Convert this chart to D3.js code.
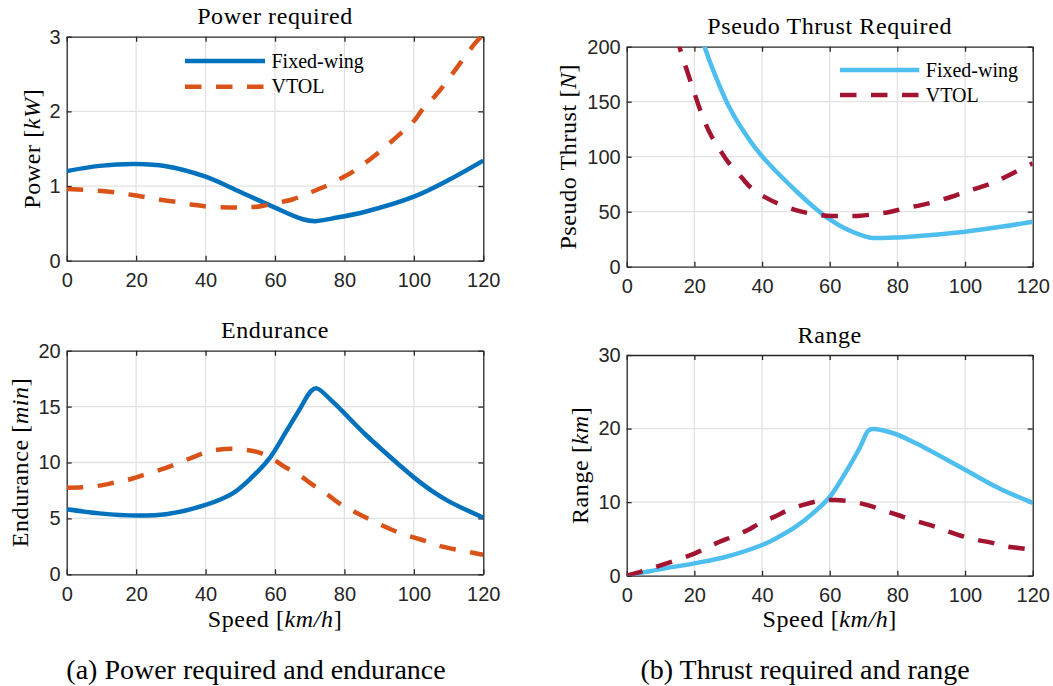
<!DOCTYPE html>
<html>
<head>
<meta charset="utf-8">
<script src="https://cdn.jsdelivr.net/npm/d3@7"></script>
<style>
body { margin: 0; background: #fff; }
svg { display: block; }
.serif { font-family: "Liberation Serif", "Times New Roman", serif; fill: #000; }
</style>
</head>
<body>
<div id="chart"></div>
<script>

// ---- data ----
var speedTicks = [0, 20, 40, 60, 80, 100, 120];
var powerTicks = [0, 1, 2, 3];
var enduranceTicks = [0, 5, 10, 15, 20];
var thrustTicks = [0, 50, 100, 150, 200];
var rangeTicks = [0, 10, 20, 30];
var seriesNames = ["Fixed-wing", "VTOL"];

var powerFwSpeed = [0, 9.4, 20, 28.6, 40, 50, 60, 68, 71.5, 76.6, 86, 100, 110, 120];
var powerFw = [1.20, 1.27, 1.295, 1.265, 1.125, 0.92, 0.71, 0.555, 0.53, 0.567, 0.656, 0.857, 1.08, 1.34];
var powerVtolSpeed = [0, 11, 19, 23, 28, 32.5, 37, 41.6, 47, 51, 56, 60, 65, 69.4, 73.7, 78, 82, 85.7, 89.6, 93.4, 96.8, 100.2, 102.7, 106, 109, 112.3, 114.7, 117.6, 120];
var powerVtol = [0.96, 0.93, 0.88, 0.848, 0.81, 0.78, 0.745, 0.72, 0.714, 0.714, 0.73, 0.77, 0.82, 0.9, 0.98, 1.08, 1.18, 1.30, 1.44, 1.59, 1.73, 1.88, 2.04, 2.2, 2.37, 2.58, 2.73, 2.91, 3.03];

var enduranceFwSpeed = [0, 9.4, 20, 28.6, 40, 47.8, 53.5, 58.4, 63.2, 67, 70.4, 72, 76.6, 86.2, 95.8, 100, 105.5, 110.2, 120];
var enduranceFw = [5.81, 5.45, 5.25, 5.37, 6.2, 7.24, 8.73, 10.37, 12.76, 14.7, 16.4, 16.63, 15.44, 12.46, 9.78, 8.67, 7.39, 6.5, 5.07];
var enduranceVtolSpeed = [0, 4.6, 9.4, 13.7, 18.5, 22.9, 27.7, 32, 36.3, 40.6, 45.4, 49.7, 54.5, 58.3, 62.7, 67, 70.9, 74.7, 78.5, 82.3, 86.7, 90.6, 95.4, 99.2, 104, 108.3, 113.1, 117.4, 120];
var enduranceVtol = [7.75, 7.78, 7.93, 8.2, 8.52, 8.97, 9.42, 9.93, 10.46, 10.97, 11.2, 11.2, 10.97, 10.52, 9.63, 8.88, 7.99, 7.24, 6.35, 5.69, 5.0, 4.41, 3.76, 3.37, 2.92, 2.47, 2.15, 1.9, 1.75];

var thrustFwSpeed = [22.3, 23, 25, 27.5, 30, 32.5, 35, 37.5, 40, 45, 50, 55, 60, 65, 70, 72, 80, 90, 100, 110, 120];
var thrustFw = [206, 200, 183, 164, 147, 133, 121, 110, 100.5, 84, 69, 55, 43, 34, 28, 26.4, 26.6, 28.8, 31.8, 36, 40.9];
var thrustVtolSpeed = [15, 15.6, 17, 20, 22.5, 25, 28, 30, 34, 37, 41, 45, 50, 54, 59, 64, 69, 74, 78, 82, 87, 91, 96, 100, 105, 109, 114, 120];
var thrustVtol = [210, 200, 186, 158, 136, 119, 104, 95, 81, 71, 63, 57, 51.5, 48.5, 46.4, 46, 46.4, 48, 50, 53, 56, 59, 63.6, 68, 72.7, 77.3, 84.8, 94];

var rangeFwSpeed = [0, 9.7, 20, 29.4, 40, 45, 50, 55, 60, 64, 69, 71.2, 72.2, 78.6, 85.5, 100, 110, 120];
var rangeFw = [0, 0.86, 1.68, 2.58, 4.17, 5.3, 6.66, 8.47, 10.7, 13.5, 17.5, 19.6, 19.9, 19.4, 18.0, 14.4, 11.9, 9.9];
var rangeVtolSpeed = [0, 4.7, 10, 20, 26.4, 31.3, 35.8, 39.2, 43.6, 48.1, 53, 57.4, 61.4, 66.8, 71.2, 75.7, 80.1, 84.5, 89.5, 93.9, 98.3, 102.8, 107.7, 112.1, 117, 120];
var rangeVtol = [0, 0.63, 1.4, 3.0, 4.4, 5.3, 6.2, 7.1, 8.0, 9.0, 9.74, 10.2, 10.3, 10.06, 9.6, 8.9, 8.25, 7.57, 6.9, 6.2, 5.5, 4.94, 4.5, 4.0, 3.7, 3.5];

function pairs(xs, ys) { return xs.map(function(v, i) { return [v, ys[i]]; }); }

var width = 1053, height = 686;
var axisColour = "#262626", gridColour = "#e2e2e2";

var svg = d3.select("#chart").append("svg")
.attr("width", width)
.attr("height", height);

var defs = svg.append("defs");

var panels = [
  { id: "power", left: 66.7, right: 483.3, top: 36.7, bottom: 260.7, yMax: 3, yTicks: powerTicks,
    title: "Power required", titleY: 24, yLabel: ["Power [", "kW", "]"], yLabelX: 40,
    colours: ["#0072BD", "#D95319"],
    series: [pairs(powerFwSpeed, powerFw), pairs(powerVtolSpeed, powerVtol)],
    legend: { x1: 185, x2: 265, y: [61, 86.7] } },
  { id: "endurance", left: 66.7, right: 483.3, top: 350.7, bottom: 574.3, yMax: 20, yTicks: enduranceTicks,
    title: "Endurance", titleY: 337.7, yLabel: ["Endurance [", "min", "]"], yLabelX: 27.5,
    colours: ["#0072BD", "#D95319"],
    series: [pairs(enduranceFwSpeed, enduranceFw), pairs(enduranceVtolSpeed, enduranceVtol)],
    xLabelY: 627 },
  { id: "thrust", left: 626.7, right: 1032.7, top: 46.7, bottom: 266.7, yMax: 200, yTicks: thrustTicks,
    title: "Pseudo Thrust Required", titleY: 34, yLabel: ["Pseudo Thrust [", "N", "]"], yLabelX: 576,
    colours: ["#4DBEEE", "#A2142F"],
    series: [pairs(thrustFwSpeed, thrustFw), pairs(thrustVtolSpeed, thrustVtol)],
    legend: { x1: 840, x2: 919.3, y: [70, 95] } },
  { id: "range", left: 626.7, right: 1032.7, top: 355, bottom: 575.7, yMax: 30, yTicks: rangeTicks,
    title: "Range", titleY: 342.7, yLabel: ["Range [", "km", "]"], yLabelX: 588,
    colours: ["#4DBEEE", "#A2142F"],
    series: [pairs(rangeFwSpeed, rangeFw), pairs(rangeVtolSpeed, rangeVtol)],
    xLabelY: 627 }
];

panels.forEach(drawPanel);

function styleAxis(sel) {
  sel.attr("font-family", "'Liberation Sans', Arial, sans-serif")
  .attr("font-size", 20);
  sel.select(".domain").attr("stroke", axisColour).attr("stroke-width", 1.3);
  sel.selectAll(".tick line").attr("stroke", axisColour).attr("stroke-width", 1.3);
  sel.selectAll(".tick text").attr("fill", axisColour);
}

function drawPanel(p) {
  var w = p.right - p.left, h = p.bottom - p.top;
  var x = d3.scaleLinear().domain([0, 120]).range([p.left, p.right]);
  var y = d3.scaleLinear().domain([0, p.yMax]).range([p.bottom, p.top]);
  var fmt = d3.format("d");
  var g = svg.append("g").attr("class", p.id);

  defs.append("clipPath").attr("id", "clip-" + p.id)
  .append("rect")
  .attr("x", p.left).attr("y", p.top)
  .attr("width", w).attr("height", h);

  // grid
  g.append("g").selectAll("line").data(speedTicks.slice(1, -1)).enter().append("line")
  .attr("x1", function(d) { return x(d); }).attr("x2", function(d) { return x(d); })
  .attr("y1", p.top).attr("y2", p.bottom)
  .attr("stroke", gridColour).attr("stroke-width", 1.3);
  g.append("g").selectAll("line").data(p.yTicks.slice(1, -1)).enter().append("line")
  .attr("y1", function(d) { return y(d); }).attr("y2", function(d) { return y(d); })
  .attr("x1", p.left).attr("x2", p.right)
  .attr("stroke", gridColour).attr("stroke-width", 1.3);

  // box with inward ticks on all sides
  g.append("g").attr("transform", "translate(0," + p.bottom + ")")
  .call(d3.axisBottom(x).tickValues(speedTicks).tickFormat(fmt).tickSizeInner(-5).tickSizeOuter(0).tickPadding(12.5))
  .call(styleAxis);
  g.append("g").attr("transform", "translate(0," + p.top + ")")
  .call(d3.axisTop(x).tickValues(speedTicks).tickSizeInner(-5).tickSizeOuter(0).tickFormat(""))
  .call(styleAxis);
  g.append("g").attr("transform", "translate(" + p.left + ",0)")
  .call(d3.axisLeft(y).tickValues(p.yTicks).tickFormat(fmt).tickSizeInner(-5).tickSizeOuter(0).tickPadding(6))
  .call(styleAxis);
  g.append("g").attr("transform", "translate(" + p.right + ",0)")
  .call(d3.axisRight(y).tickValues(p.yTicks).tickSizeInner(-5).tickSizeOuter(0).tickFormat(""))
  .call(styleAxis);

  // curves
  var line = d3.line()
  .x(function(d) { return x(d[0]); })
  .y(function(d) { return y(d[1]); })
  .curve(d3.curveCatmullRom.alpha(0.5));

  g.append("g").attr("clip-path", "url(#clip-" + p.id + ")")
  .selectAll("path").data(p.series).enter().append("path")
  .attr("d", line)
  .attr("fill", "none")
  .attr("stroke", function(d, i) { return p.colours[i]; })
  .attr("stroke-width", 4.5)
  .attr("stroke-linejoin", "round")
  .attr("stroke-dasharray", function(d, i) { return i == 1 ? "16.5,14.5" : null; });

  // title
  g.append("text")
  .attr("class", "serif")
  .attr("x", (p.left + p.right) / 2)
  .attr("y", p.titleY)
  .attr("text-anchor", "middle")
  .attr("font-size", 24)
  .attr("letter-spacing", 0.6)
  .text(p.title);

  // y label
  var yl = g.append("text")
  .attr("class", "serif")
  .attr("transform", "translate(" + p.yLabelX + "," + ((p.top + p.bottom) / 2) + ") rotate(-90)")
  .attr("text-anchor", "middle")
  .attr("font-size", 24)
  .attr("letter-spacing", 0.6);
  yl.append("tspan").text(p.yLabel[0]);
  yl.append("tspan").attr("font-style", "italic").text(p.yLabel[1]);
  yl.append("tspan").text(p.yLabel[2]);

  // x label
  if (p.xLabelY) {
    var xl = g.append("text")
    .attr("class", "serif")
    .attr("x", (p.left + p.right) / 2)
    .attr("y", p.xLabelY)
    .attr("text-anchor", "middle")
    .attr("font-size", 24)
    .attr("letter-spacing", 0.6);
    xl.append("tspan").text("Speed [");
    xl.append("tspan").attr("font-style", "italic").text("km/h");
    xl.append("tspan").text("]");
  }

  // legend
  if (p.legend) {
    var lg = g.append("g").attr("class", "legend");
    seriesNames.forEach(function(name, i) {
      lg.append("line")
      .attr("x1", p.legend.x1).attr("x2", p.legend.x2)
      .attr("y1", p.legend.y[i]).attr("y2", p.legend.y[i])
      .attr("stroke", p.colours[i])
      .attr("stroke-width", 4.5)
      .attr("stroke-dasharray", i == 1 ? "16.5,14.5" : null);
      lg.append("text")
      .attr("class", "serif")
      .attr("x", p.legend.x2 + 6.5)
      .attr("y", p.legend.y[i] + 6.5)
      .attr("font-size", 20)
      .text(name);
    });
  }
}

// sub-figure captions
var captions = [
  { text: "(a) Power required and endurance", x: 256 },
  { text: "(b) Thrust required and range", x: 805 }
];
svg.selectAll(".caption").data(captions).enter().append("text")
.attr("class", "serif caption")
.attr("x", function(d) { return d.x; })
.attr("y", 679)
.attr("text-anchor", "middle")
.attr("font-size", 28)
.text(function(d) { return d.text; });

</script>
</body>
</html>
